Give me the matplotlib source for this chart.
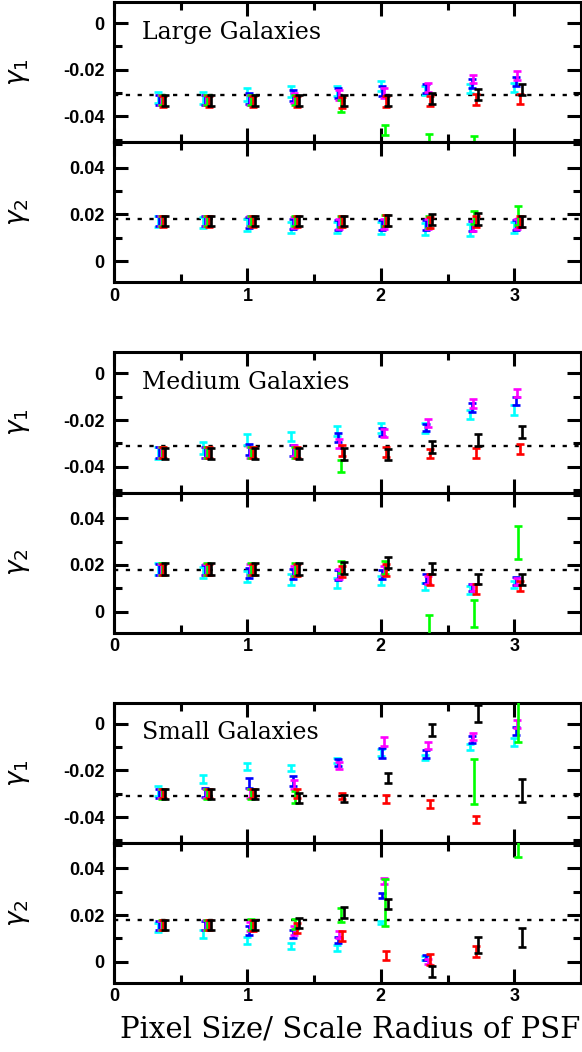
import numpy as np
import matplotlib
matplotlib.use("Agg")
import matplotlib.pyplot as plt
from matplotlib.ticker import MultipleLocator, FixedLocator

nan = np.nan

# ---------------- data ----------------
x_base = [0.33, 0.67, 1.0, 1.33, 1.67, 2.0, 2.33, 2.67, 3.0]
series_names = ["cyan", "blue", "magenta", "green", "red", "black"]
series_colors = ["#00ffff", "#0000ff", "#ff00ff", "#00ff00", "#ff0000", "#000000"]

true_g1 = -0.031
true_g2 = 0.018

titles = ["Large Galaxies", "Medium Galaxies", "Small Galaxies"]
g1_ticklabels = ["-0.04", "-0.02", "0"]
g1_ticks = [-0.04, -0.02, 0.0]
g2_ticklabels = ["0", "0.02", "0.04"]
g2_ticks = [0.0, 0.02, 0.04]
x_ticklabels = ["0", "1", "2", "3"]
x_ticks = [0, 1, 2, 3]
xlabel = "Pixel Size/ Scale Radius of PSF"
ylabels = [r"$\gamma_1$", r"$\gamma_2$"]

# Large galaxies, gamma_1
large_g1_cyan = [-0.032, -0.032, -0.0305, -0.0294, -0.029, -0.027, -0.0288, -0.028, -0.0275]
large_g1_blue = [-0.033, -0.033, -0.0325, -0.031, -0.030, -0.029, -0.028, -0.0258, -0.0249]
large_g1_magenta = [-0.033, -0.033, -0.033, -0.032, -0.031, -0.030, -0.0277, -0.024, -0.0226]
large_g1_green = [-0.033, -0.033, -0.033, -0.033, -0.0354, -0.0458, -0.050, -0.051, nan]
large_g1_red = [-0.0335, -0.0335, -0.0335, -0.0335, -0.034, -0.0335, -0.0333, -0.0328, -0.0327]
large_g1_black = [-0.0332, -0.0332, -0.0332, -0.0332, -0.0332, -0.0332, -0.0325, -0.0307, -0.0285]
large_g1_err = [
    [0.0023, 0.0025, 0.0028, 0.0025, 0.0021, 0.0021, 0.0020, 0.0020, 0.0020],
    [0.0022, 0.0022, 0.0024, 0.0023, 0.0021, 0.0021, 0.0020, 0.0019, 0.0019],
    [0.0022, 0.0022, 0.0023, 0.0022, 0.0021, 0.0021, 0.0020, 0.0019, 0.0019],
    [0.0023, 0.0023, 0.0023, 0.0023, 0.0026, 0.0023, 0.0025, 0.0025, 0.0025],
    [0.0023, 0.0023, 0.0023, 0.0023, 0.0023, 0.0023, 0.0022, 0.0022, 0.0021],
    [0.0023, 0.0023, 0.0023, 0.0023, 0.0023, 0.0023, 0.0024, 0.0025, 0.0025],
]

# Large galaxies, gamma_2
large_g2_cyan = [0.017, 0.0164, 0.0155, 0.0145, 0.0144, 0.0142, 0.0138, 0.0133, 0.0144]
large_g2_blue = [0.017, 0.017, 0.0165, 0.016, 0.0155, 0.0155, 0.0155, 0.015, 0.0155]
large_g2_magenta = [0.017, 0.017, 0.017, 0.0165, 0.016, 0.016, 0.016, 0.015, 0.0158]
large_g2_green = [0.0172, 0.0172, 0.0172, 0.0172, 0.0170, 0.0174, 0.0168, 0.0185, 0.0196]
large_g2_red = [0.017, 0.017, 0.017, 0.017, 0.0168, 0.0174, 0.0165, 0.017, 0.017]
large_g2_black = [0.0172, 0.0172, 0.0172, 0.0172, 0.0172, 0.0175, 0.0178, 0.018, 0.017]
large_g2_err = [
    [0.0024, 0.0024, 0.0025, 0.0024, 0.0024, 0.0025, 0.0025, 0.0025, 0.0024],
    [0.0022, 0.0022, 0.0022, 0.0022, 0.0022, 0.0022, 0.0022, 0.0022, 0.0022],
    [0.0022, 0.0022, 0.0022, 0.0022, 0.0022, 0.0022, 0.0022, 0.0022, 0.0022],
    [0.0023, 0.0023, 0.0023, 0.0023, 0.0024, 0.0025, 0.0026, 0.0028, 0.0040],
    [0.0023, 0.0023, 0.0023, 0.0023, 0.0023, 0.0023, 0.0023, 0.0023, 0.0023],
    [0.0023, 0.0023, 0.0023, 0.0023, 0.0023, 0.0024, 0.0025, 0.0025, 0.0024],
]

# Medium galaxies, gamma_1
medium_g1_cyan = [-0.034, -0.032, -0.0282, -0.0269, -0.0247, -0.0234, -0.0234, -0.0176, -0.0157]
medium_g1_blue = [-0.034, -0.034, -0.0325, -0.033, -0.0275, -0.025, -0.0232, -0.0146, -0.0118]
medium_g1_magenta = [-0.034, -0.034, -0.034, -0.033, -0.030, -0.0254, -0.0213, -0.0129, -0.0084]
medium_g1_green = [-0.034, -0.034, -0.034, -0.034, -0.0396, nan, nan, nan, nan]
medium_g1_red = [-0.034, -0.034, -0.034, -0.034, -0.033, -0.0335, -0.0343, -0.0341, -0.0322]
medium_g1_black = [-0.0342, -0.0342, -0.0342, -0.0342, -0.0345, -0.0346, -0.0314, -0.0284, -0.0251]
medium_g1_err = [
    [0.0025, 0.0025, 0.0024, 0.0020, 0.0020, 0.0020, 0.0020, 0.0018, 0.0020],
    [0.0023, 0.0023, 0.0023, 0.0022, 0.0020, 0.0018, 0.0016, 0.0018, 0.0018],
    [0.0023, 0.0023, 0.0023, 0.0022, 0.0020, 0.0018, 0.0018, 0.0018, 0.0018],
    [0.0024, 0.0024, 0.0024, 0.0024, 0.0026, 0.0024, 0.0024, 0.0024, 0.0024],
    [0.0023, 0.0023, 0.0023, 0.0023, 0.0022, 0.0021, 0.0021, 0.0022, 0.0021],
    [0.0024, 0.0024, 0.0024, 0.0024, 0.0024, 0.0023, 0.0025, 0.0026, 0.0026],
]

# Medium galaxies, gamma_2
medium_g2_cyan = [0.0183, 0.0167, 0.015, 0.0137, 0.0122, 0.0133, 0.0107, 0.0091, 0.0115]
medium_g2_blue = [0.018, 0.0178, 0.0165, 0.016, 0.0157, 0.016, 0.0141, 0.0103, 0.013]
medium_g2_magenta = [0.018, 0.018, 0.018, 0.0175, 0.016, 0.0175, 0.0134, 0.0103, 0.0128]
medium_g2_green = [0.0183, 0.0183, 0.0183, 0.018, 0.019, 0.0187, -0.006, -0.0009, 0.0296]
medium_g2_red = [0.018, 0.018, 0.018, 0.0178, 0.017, 0.0178, 0.0137, 0.0097, 0.0109]
medium_g2_black = [0.0183, 0.0183, 0.0183, 0.0183, 0.0186, 0.0211, 0.0183, 0.0139, 0.0137]
medium_g2_err = [
    [0.0026, 0.0024, 0.0024, 0.0022, 0.0020, 0.0020, 0.0015, 0.0017, 0.0015],
    [0.0023, 0.0023, 0.0023, 0.0022, 0.0021, 0.0020, 0.0018, 0.0017, 0.0016],
    [0.0023, 0.0023, 0.0023, 0.0022, 0.0021, 0.0020, 0.0018, 0.0017, 0.0016],
    [0.0026, 0.0026, 0.0026, 0.0026, 0.0027, 0.0028, 0.0045, 0.0057, 0.0070],
    [0.0024, 0.0024, 0.0024, 0.0024, 0.0024, 0.0024, 0.0023, 0.0022, 0.0022],
    [0.0025, 0.0025, 0.0025, 0.0025, 0.0025, 0.0024, 0.0023, 0.0023, 0.0023],
]

# Small galaxies, gamma_1
small_g1_cyan = [-0.0288, -0.0237, -0.0183, -0.0189, -0.0157, -0.0123, -0.0145, -0.0101, -0.0077]
small_g1_blue = [-0.030, -0.0295, -0.0254, -0.0246, -0.0167, -0.0125, -0.0129, -0.0068, -0.0032]
small_g1_magenta = [-0.030, -0.030, -0.030, -0.026, -0.018, -0.0075, -0.0093, -0.0054, -0.0002]
small_g1_green = [-0.030, -0.030, -0.030, -0.0314, nan, nan, nan, -0.0247, 0.0010]
small_g1_red = [-0.030, -0.030, -0.030, -0.030, -0.031, -0.0323, -0.0344, -0.0409, nan]
small_g1_black = [-0.030, -0.030, -0.030, -0.0318, -0.032, -0.0234, -0.0026, 0.0043, -0.0286]
small_g1_err = [
    [0.0020, 0.0018, 0.0015, 0.0013, 0.0012, 0.0015, 0.0012, 0.0012, 0.0017],
    [0.0020, 0.0020, 0.0022, 0.0020, 0.0015, 0.0020, 0.0017, 0.0015, 0.0016],
    [0.0020, 0.0020, 0.0020, 0.0020, 0.0016, 0.0020, 0.0016, 0.0014, 0.0016],
    [0.0022, 0.0022, 0.0022, 0.0025, 0.0025, 0.0025, 0.0025, 0.0097, 0.0088],
    [0.0020, 0.0020, 0.0020, 0.0020, 0.0012, 0.0016, 0.0016, 0.0015, 0.0015],
    [0.0021, 0.0021, 0.0021, 0.0021, 0.0015, 0.0022, 0.0025, 0.0037, 0.0048],
]

# Small galaxies, gamma_2
small_g2_cyan = [0.0148, 0.012, 0.0092, 0.0069, 0.0060, 0.0168, 0.0017, nan, nan]
small_g2_blue = [0.0156, 0.0155, 0.0135, 0.0117, 0.0092, 0.0283, 0.0019, nan, nan]
small_g2_magenta = [0.0156, 0.0158, 0.015, 0.0135, 0.0115, 0.0345, 0.0001, nan, nan]
small_g2_green = [0.0156, 0.0158, 0.016, 0.0163, 0.0200, 0.0255, nan, nan, 0.052]
small_g2_red = [0.0156, 0.0158, 0.0155, 0.0143, 0.0109, 0.0026, 0.0011, 0.0045, nan]
small_g2_black = [0.0156, 0.0158, 0.0158, 0.0165, 0.0211, 0.0249, -0.0041, 0.0073, 0.0105]
small_g2_err = [
    [0.0020, 0.0017, 0.0015, 0.0013, 0.0012, 0.0008, 0.0008, 0.0010, 0.0010],
    [0.0020, 0.0020, 0.0020, 0.0017, 0.0012, 0.0010, 0.0010, 0.0010, 0.0010],
    [0.0020, 0.0020, 0.0020, 0.0020, 0.0015, 0.0012, 0.0010, 0.0010, 0.0010],
    [0.0022, 0.0022, 0.0022, 0.0022, 0.0030, 0.0100, 0.0020, 0.0020, 0.0070],
    [0.0022, 0.0022, 0.0022, 0.0022, 0.0022, 0.0020, 0.0023, 0.0023, 0.0020],
    [0.0022, 0.0022, 0.0022, 0.0022, 0.0022, 0.0021, 0.0024, 0.0034, 0.0040],
]

panels = [
    ([large_g1_cyan, large_g1_blue, large_g1_magenta, large_g1_green, large_g1_red, large_g1_black], large_g1_err,
     [large_g2_cyan, large_g2_blue, large_g2_magenta, large_g2_green, large_g2_red, large_g2_black], large_g2_err),
    ([medium_g1_cyan, medium_g1_blue, medium_g1_magenta, medium_g1_green, medium_g1_red, medium_g1_black], medium_g1_err,
     [medium_g2_cyan, medium_g2_blue, medium_g2_magenta, medium_g2_green, medium_g2_red, medium_g2_black], medium_g2_err),
    ([small_g1_cyan, small_g1_blue, small_g1_magenta, small_g1_green, small_g1_red, small_g1_black], small_g1_err,
     [small_g2_cyan, small_g2_blue, small_g2_magenta, small_g2_green, small_g2_red, small_g2_black], small_g2_err),
]

# ---------------- style / layout ----------------
series_offsets = [0.0, 0.01, 0.02, 0.03, 0.04, 0.055]
W, H = 582, 1052
left_px, width_px = 114, 467
panel_h = 140
group_tops = [2, 352.5, 702.7]

tick_font = dict(family="Liberation Sans", weight="bold", size=13)

fig = plt.figure(figsize=(W / 100, H / 100), dpi=100)


def style_axes(ax, yticks, yticklabels, ylim, show_x):
    ax.set_xlim(0, 3.5)
    ax.set_ylim(*ylim)
    for sp in ax.spines.values():
        sp.set_linewidth(2.2)
    ax.xaxis.set_major_locator(FixedLocator(x_ticks))
    ax.xaxis.set_minor_locator(MultipleLocator(0.5))
    ax.yaxis.set_major_locator(FixedLocator(yticks))
    ax.yaxis.set_minor_locator(MultipleLocator(0.01))
    ax.tick_params(which="both", direction="in", top=True, right=True, width=2.2)
    ax.tick_params(which="major", length=10)
    ax.tick_params(which="minor", length=6)
    ax.set_yticklabels(yticklabels, fontdict=tick_font)
    ax.tick_params(axis="y", pad=7)
    if show_x:
        ax.set_xticklabels(x_ticklabels, fontdict=tick_font)
        ax.tick_params(axis="x", pad=4)
    else:
        ax.set_xticklabels([])


for g, (g1_vals, g1_err, g2_vals, g2_err) in enumerate(panels):
    top = group_tops[g]
    ax1 = fig.add_axes([left_px / W, 1 - (top + panel_h) / H, width_px / W, panel_h / H])
    ax2 = fig.add_axes([left_px / W, 1 - (top + 2 * panel_h) / H, width_px / W, panel_h / H])

    for ax, vals, errs, truth in ((ax1, g1_vals, g1_err, true_g1), (ax2, g2_vals, g2_err, true_g2)):
        ax.axhline(truth, color="black", lw=1.7, ls=(0, (1.8, 3.2)), zorder=1)
        for s, (v, e) in enumerate(zip(vals, errs)):
            xs = np.array(x_base) + series_offsets[s]
            ax.errorbar(xs, v, yerr=e, fmt="none", ecolor=series_colors[s],
                        elinewidth=1.9, capsize=2.6, capthick=1.9, zorder=2 + s)

    style_axes(ax1, g1_ticks, g1_ticklabels, (-0.051, 0.009), False)
    style_axes(ax2, g2_ticks, g2_ticklabels, (-0.009, 0.051), True)

    for ax, lab in ((ax1, ylabels[0]), (ax2, ylabels[1])):
        ax.text((19 - left_px) / width_px, 0.5, lab, transform=ax.transAxes,
                rotation=90, ha="center", va="center", fontsize=19)

    ax1.text(0.059, 0.785, titles[g], transform=ax1.transAxes, ha="left", va="center",
             fontsize=17, family="DejaVu Serif")

fig.text((122 + 578) / 2 / W, 1 - 1030 / H, xlabel, ha="center", va="center",
         fontsize=21, family="DejaVu Serif")

fig.savefig("out.png", dpi=100)
